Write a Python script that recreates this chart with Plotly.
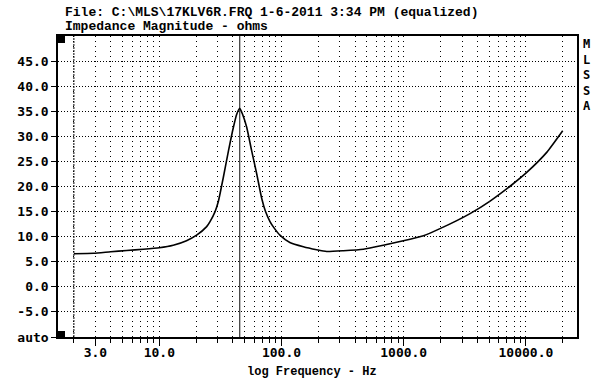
import plotly.graph_objects as go

# ---- data ----
freq_hz = [2, 2.9, 4, 5.4, 7.4, 10, 13, 16.7, 20.2, 24.4, 26, 28.6, 30.4, 33.4, 36.8,
           40.4, 43, 45.5, 48, 51.9, 57, 62.7, 68.9, 74, 80.5, 86, 97, 117, 151, 194,
           234, 321, 467, 681, 1127, 1450, 1980, 3490, 5090, 7640, 10150, 14800, 20000]
impedance_ohm = [6.6, 6.7, 7.0, 7.25, 7.5, 7.8, 8.3, 9.2, 10.3, 12.0, 13.0, 15.0, 17.0, 21.8, 27.1,
                 31.8, 34.4, 35.6, 34.4, 31.8, 27.1, 22.5, 17.6, 15.0, 13.0, 11.9, 10.3, 8.85, 8.0, 7.4,
                 7.05, 7.2, 7.5, 8.3, 9.5, 10.2, 11.6, 14.6, 17.1, 20.3, 22.8, 26.8, 31.1]

marker_dashed_hz = 2.0
marker_solid_hz = 45.5

x_major_vals = [3, 10, 100, 1000, 10000]
x_major_text = ["3.0", "10.0", "100.0", "1000.0", "10000.0"]
x_minor_vals = [2, 4, 5, 6, 7, 8, 9,
                20, 30, 40, 50, 60, 70, 80, 90,
                200, 300, 400, 500, 600, 700, 800, 900,
                2000, 3000, 4000, 5000, 6000, 7000, 8000, 9000, 20000]
y_tick_vals = [-10, -5, 0, 5, 10, 15, 20, 25, 30, 35, 40, 45]
y_tick_text = ["auto", "-5.0", "0.0", "5.0", "10.0", "15.0", "20.0", "25.0", "30.0", "35.0", "40.0", "45.0"]
y_range = [-10, 50]

title_line1 = "File: C:\\MLS\\17KLV6R.FRQ 1-6-2011 3:34 PM (equalized)"
title_line2 = "Impedance Magnitude - ohms"
x_title = "log Frequency - Hz"
side_label = "M<br>L<br>S<br>S<br>A"

mono = "Liberation Mono"
tickfont = dict(family="DejaVu Sans Mono", size=13, color="black", weight="bold")

fig = go.Figure()

# marker lines
fig.add_trace(go.Scatter(x=[marker_dashed_hz, marker_dashed_hz], y=y_range, mode="lines",
                         line=dict(color="black", width=1, dash="2px,1px"), hoverinfo="skip"))
fig.add_trace(go.Scatter(x=[marker_solid_hz, marker_solid_hz], y=y_range, mode="lines",
                         line=dict(color="#333333", width=1.2), hoverinfo="skip"))

# impedance curve
fig.add_trace(go.Scatter(x=freq_hz, y=impedance_ohm, mode="lines",
                         line=dict(color="black", width=1.6, shape="spline", smoothing=0.5)))

fig.update_layout(
    width=600, height=383,
    margin=dict(l=58, r=23, t=36, b=46),
    paper_bgcolor="white", plot_bgcolor="white",
    showlegend=False,
    xaxis=dict(
        type="log", range=[0.171, 4.418],
        tickmode="array", tickvals=x_major_vals, ticktext=x_major_text,
        ticks="outside", ticklen=7, tickwidth=1, tickcolor="black",
        tickfont=tickfont, ticklabelstandoff=-4,
        showgrid=True, gridcolor="black", gridwidth=1, griddash="1px,4px",
        minor=dict(tickmode="array", tickvals=x_minor_vals, ticks="outside", ticklen=4,
                   tickcolor="black", tickwidth=1,
                   showgrid=True, gridcolor="black", gridwidth=1, griddash="1px,4px"),
        showline=True, mirror=True, linecolor="black", linewidth=1.5,
        zeroline=False,
    ),
    yaxis=dict(
        range=y_range,
        tickmode="array", tickvals=y_tick_vals, ticktext=y_tick_text,
        ticks="outside", ticklen=5, tickwidth=1, tickcolor="black",
        tickfont=tickfont,
        showgrid=True, gridcolor="black", gridwidth=1, griddash="1px,2px",
        showline=True, mirror=True, linecolor="black", linewidth=1.5,
        zeroline=False,
    ),
    shapes=[
        dict(type="rect", xref="x domain", yref="y domain", xsizemode="pixel", ysizemode="pixel",
             xanchor=0, yanchor=1, x0=0, x1=7, y0=-7, y1=0, fillcolor="black", line=dict(width=0)),
        dict(type="rect", xref="x domain", yref="y domain", xsizemode="pixel", ysizemode="pixel",
             xanchor=0, yanchor=0, x0=0, x1=7, y0=0, y1=6, fillcolor="black", line=dict(width=0)),
    ],
    annotations=[
        dict(text=title_line1, xref="paper", yref="paper", x=0.0096, y=1.0774,
             xanchor="left", yanchor="middle", showarrow=False,
             font=dict(family=mono, size=13, color="black", weight="bold")),
        dict(text=title_line2, xref="paper", yref="paper", x=0.0096, y=1.031,
             xanchor="left", yanchor="middle", showarrow=False,
             font=dict(family=mono, size=13, color="black", weight="bold")),
        dict(text=x_title, xref="paper", yref="paper", x=0.49, y=-0.116,
             xanchor="center", yanchor="middle", showarrow=False,
             font=dict(family=mono, size=12, color="black", weight="bold")),
        dict(text=side_label, xref="paper", yref="paper", x=1.019, y=0.869,
             xanchor="center", yanchor="middle", showarrow=False,
             font=dict(family="DejaVu Sans Mono", size=12, color="black", weight="bold")),
    ],
)

fig.write_html("out.html", config={"displayModeBar": False},
               post_script="document.body.style.margin='0';document.body.style.padding='0';")
